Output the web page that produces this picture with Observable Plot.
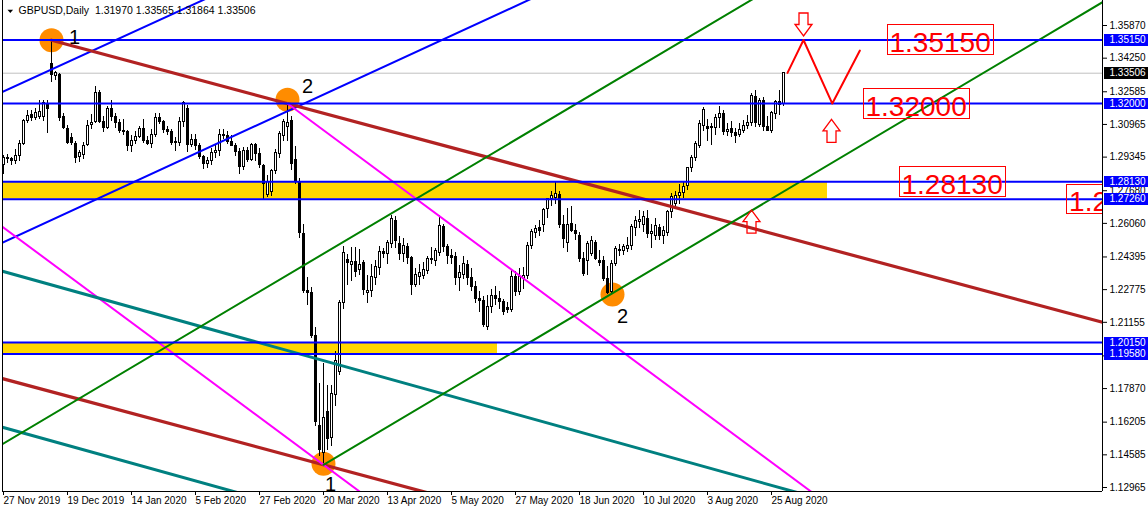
<!DOCTYPE html>
<html><head><meta charset="utf-8">
<script src="https://cdn.jsdelivr.net/npm/d3@7"></script>
<script src="https://cdn.jsdelivr.net/npm/@observablehq/plot@0.6"></script>
<style>html,body{margin:0;padding:0;background:#fff}svg{display:block}</style>
</head><body><div id="chart"></div>
<script>
// ---- daily GBPUSD bars, 27 Nov 2019 (bar 0) .. 28 Aug 2020 (bar 195) ----
const opens = [
1.2895,1.2930,1.2925,1.2917,1.2940,1.2998,1.3113,1.3145,1.3130,1.3131,
1.3135,1.3200,1.3395,1.3335,1.3340,1.3133,1.3076,1.3030,1.3000,1.2935,
1.2943,1.2995,1.3095,1.3110,1.3250,1.3110,1.3080,1.3175,1.3135,1.3105,
1.3065,1.3060,1.2990,1.3015,1.3035,1.3075,1.3015,1.3000,1.3045,1.3130,
1.3110,1.3070,1.3060,1.3005,1.3005,1.3110,1.3175,1.2995,1.3020,1.2990,
1.2935,1.2900,1.2915,1.2955,1.2965,1.3045,1.3040,1.3010,1.2990,1.2960,
1.2885,1.2965,1.2920,1.2995,1.2950,1.2890,1.2745,1.2760,1.2868,1.2950,
1.3040,1.3085,1.3115,1.2920,1.2808,1.2555,1.2270,1.2263,1.2050,1.1600,
1.1470,1.1669,1.1544,1.1753,1.1867,1.2209,1.2422,1.2400,1.2415,1.2375,
1.2410,1.2262,1.2270,1.2336,1.2383,1.2462,1.2452,1.2506,1.2620,1.2506,
1.2456,1.2490,1.2435,1.2300,1.2340,1.2345,1.2372,1.2430,1.2420,1.2460,
1.2590,1.2487,1.2443,1.2440,1.2337,1.2350,1.2400,1.2337,1.2290,1.2232,
1.2222,1.2090,1.2190,1.2245,1.2232,1.2215,1.2185,1.2175,1.2340,1.2265,
1.2330,1.2345,1.2495,1.2560,1.2585,1.2600,1.2675,1.2725,1.2730,1.2745,
1.2600,1.2510,1.2605,1.2570,1.2545,1.2430,1.2420,1.2455,1.2510,1.2420,
1.2420,1.2330,1.2265,1.2405,1.2475,1.2470,1.2480,1.2495,1.2585,1.2612,
1.2598,1.2630,1.2555,1.2545,1.2585,1.2545,1.2560,1.2660,1.2700,1.2740,
1.2755,1.2790,1.2880,1.2932,1.2990,1.3091,1.3082,1.3078,1.3080,1.3130,
1.3150,1.3060,1.3075,1.3055,1.3045,1.3065,1.3090,1.3105,1.3235,1.3095,
1.3215,1.3085,1.3065,1.3150,1.3210,1.31970];
const highs = [
1.2945,1.2948,1.2935,1.2970,1.3015,1.3120,1.3165,1.3165,1.3175,1.3216,
1.3216,1.3215,1.3514,1.3360,1.3350,1.3150,1.3090,1.3050,1.3010,1.2965,
1.3005,1.3118,1.3145,1.3285,1.3265,1.3135,1.3185,1.3215,1.3150,1.3120,
1.3120,1.3065,1.3040,1.3060,1.3085,1.3120,1.3035,1.3070,1.3150,1.3150,
1.3115,1.3085,1.3070,1.3030,1.3130,1.3210,1.3190,1.3045,1.3045,1.3000,
1.2945,1.2935,1.2975,1.2990,1.3070,1.3070,1.3060,1.3040,1.3000,1.2975,
1.2980,1.2980,1.3000,1.3000,1.2975,1.2900,1.2845,1.2875,1.2970,1.3060,
1.3120,1.3200,1.3135,1.2985,1.2830,1.2600,1.2340,1.2290,1.2090,1.1810,
1.1910,1.1800,1.1800,1.1970,1.2225,1.2490,1.2450,1.2485,1.2485,1.2475,
1.2420,1.2350,1.2400,1.2420,1.2490,1.2480,1.2520,1.2647,1.2640,1.2540,
1.2530,1.2505,1.2440,1.2380,1.2400,1.2410,1.2440,1.2485,1.2480,1.2645,
1.2600,1.2500,1.2475,1.2460,1.2395,1.2440,1.2420,1.2380,1.2320,1.2270,
1.2245,1.2250,1.2280,1.2295,1.2270,1.2230,1.2215,1.2370,1.2365,1.2380,
1.2385,1.2510,1.2575,1.2595,1.2620,1.2680,1.2730,1.2765,1.2812,1.2765,
1.2645,1.2680,1.2690,1.2600,1.2560,1.2460,1.2515,1.2540,1.2520,1.2470,
1.2440,1.2390,1.2420,1.2490,1.2500,1.2500,1.2535,1.2600,1.2640,1.2670,
1.2665,1.2670,1.2600,1.2630,1.2600,1.2590,1.2670,1.2755,1.2765,1.2800,
1.2815,1.2880,1.2945,1.3010,1.3115,1.3180,1.3120,1.3100,1.3145,1.3185,
1.3165,1.3100,1.3110,1.3075,1.3100,1.3115,1.3140,1.3250,1.3265,1.3225,
1.3230,1.3135,1.3160,1.3215,1.3265,1.33565];
const lows = [
1.2850,1.2905,1.2895,1.2900,1.2915,1.2990,1.3100,1.3110,1.3115,1.3120,
1.3110,1.3052,1.3305,1.3315,1.3110,1.3070,1.2998,1.2990,1.2905,1.2910,
1.2925,1.2985,1.3070,1.3100,1.3100,1.3055,1.3070,1.3110,1.3075,1.3050,
1.3040,1.2960,1.2955,1.2995,1.3025,1.3000,1.2990,1.2975,1.3030,1.3095,
1.3050,1.3040,1.2990,1.2960,1.2985,1.3080,1.2955,1.2980,1.2965,1.2925,
1.2875,1.2880,1.2895,1.2930,1.2940,1.3020,1.2995,1.2985,1.2940,1.2850,
1.2870,1.2910,1.2915,1.2915,1.2880,1.2725,1.2735,1.2740,1.2850,1.2930,
1.3010,1.3010,1.2870,1.2800,1.2530,1.2260,1.2200,1.2035,1.1600,1.1450,
1.1409,1.1480,1.1500,1.1700,1.1850,1.2180,1.2300,1.2320,1.2340,1.2350,
1.2250,1.2210,1.2240,1.2300,1.2350,1.2430,1.2400,1.2480,1.2480,1.2420,
1.2410,1.2400,1.2248,1.2290,1.2300,1.2330,1.2355,1.2400,1.2390,1.2440,
1.2460,1.2400,1.2400,1.2300,1.2270,1.2330,1.2300,1.2270,1.2210,1.2165,
1.2090,1.2075,1.2160,1.2200,1.2180,1.2150,1.2160,1.2165,1.2245,1.2250,
1.2280,1.2330,1.2475,1.2530,1.2540,1.2560,1.2630,1.2690,1.2700,1.2580,
1.2480,1.2460,1.2560,1.2520,1.2410,1.2345,1.2350,1.2440,1.2420,1.2390,
1.2320,1.2251,1.2255,1.2390,1.2440,1.2445,1.2460,1.2470,1.2540,1.2580,
1.2560,1.2530,1.2480,1.2520,1.2520,1.2500,1.2540,1.2630,1.2680,1.2700,
1.2730,1.2770,1.2860,1.2915,1.2975,1.3060,1.3010,1.2990,1.3040,1.3075,
1.3040,1.3035,1.3030,1.3000,1.3030,1.3050,1.3070,1.3085,1.3080,1.3080,
1.3060,1.3060,1.3050,1.3120,1.3140,1.31864];
const closes = [
1.2930,1.2925,1.2917,1.2940,1.2998,1.3113,1.3140,1.3130,1.3155,1.3156,
1.3205,1.3175,1.3340,1.3350,1.3130,1.3079,1.3006,1.3005,1.2932,1.2955,
1.2990,1.3090,1.3105,1.3250,1.3110,1.3080,1.3175,1.3135,1.3105,1.3065,
1.3060,1.2990,1.3015,1.3035,1.3075,1.3015,1.3000,1.3045,1.3130,1.3110,
1.3070,1.3060,1.3005,1.3010,1.3110,1.3205,1.2995,1.3020,1.2990,1.2935,
1.2900,1.2915,1.2955,1.2965,1.3045,1.3040,1.3010,1.2990,1.2960,1.2885,
1.2965,1.2920,1.2995,1.2950,1.2895,1.2800,1.2810,1.2865,1.2957,1.3050,
1.3110,1.3105,1.2900,1.2810,1.2560,1.2273,1.2260,1.2050,1.1619,1.1480,
1.1640,1.1539,1.1762,1.1926,1.2209,1.2457,1.2408,1.2415,1.2366,1.2400,
1.2275,1.2270,1.2338,1.2390,1.2462,1.2452,1.2510,1.2630,1.2520,1.2456,
1.2495,1.2435,1.2300,1.2352,1.2360,1.2375,1.2430,1.2422,1.2470,1.2595,
1.2490,1.2443,1.2435,1.2337,1.2360,1.2405,1.2337,1.2290,1.2232,1.2220,
1.2100,1.2190,1.2248,1.2232,1.2215,1.2165,1.2175,1.2340,1.2265,1.2340,
1.2345,1.2495,1.2565,1.2580,1.2570,1.2670,1.2727,1.2740,1.2750,1.2600,
1.2530,1.2600,1.2570,1.2555,1.2430,1.2355,1.2505,1.2520,1.2430,1.2410,
1.2330,1.2260,1.2405,1.2480,1.2470,1.2490,1.2495,1.2590,1.2620,1.2625,
1.2640,1.2555,1.2565,1.2595,1.2545,1.2570,1.2660,1.2735,1.2740,1.2755,
1.2785,1.2880,1.2930,1.3000,1.3100,1.3170,1.3075,1.3085,1.3130,1.3150,
1.3060,1.3070,1.3055,1.3040,1.3070,1.3090,1.3105,1.3240,1.3105,1.3215,
1.3085,1.3065,1.3155,1.3210,1.3195,1.33506];

// ---- axes ----
const dateTickBars = [0,16,32,48,64,80,96,112,128,144,160,176,192];
const dateTickLabels = ["27 Nov 2019","19 Dec 2019","14 Jan 2020","5 Feb 2020","27 Feb 2020","20 Mar 2020","13 Apr 2020","5 May 2020","27 May 2020","18 Jun 2020","10 Jul 2020","3 Aug 2020","25 Aug 2020"];
const priceTicks = [1.35870,1.34250,1.32585,1.30965,1.29345,1.27680,1.26060,1.24395,1.22775,1.21155,1.19490,1.17870,1.16205,1.14585,1.12965];

// ---- drawn objects ----
const levels = [1.35150,1.32000,1.28130,1.27260,1.20150,1.19580];
const bidPrice = 1.33506;
const zones = [{from:-5,to:206,lo:1.2726,hi:1.2813},{from:-5,to:123.5,lo:1.1958,hi:1.2015}];
const pivots = [{bar:12,price:1.3514,label:"1"},{bar:71,price:1.3219,label:"2"},{bar:80,price:1.1414,label:"1"},{bar:152.25,price:1.2253,label:"2"}];
const trendlines = [
  {color:"#0000ff",a:[0,1.3260],b:[48,1.3696],ray:false},
  {color:"#0000ff",a:[0,1.2513],b:[129.6,1.3698],ray:false},
  {color:"#b22222",a:[12,1.3514],b:[71,1.3200],ray:true},
  {color:"#b22222",a:[0,1.1835],b:[80,1.1409],ray:false},
  {color:"#ff00ff",a:[71,1.3200],b:[200,1.1304],ray:true},
  {color:"#ff00ff",a:[0,1.2585],b:[80,1.1409],ray:false},
  {color:"#008080",a:[0,1.2367],b:[196.75,1.1281],ray:false},
  {color:"#008080",a:[0,1.1594],b:[56.75,1.1281],ray:false},
  {color:"#008000",a:[0,1.1515],b:[100,1.2691],ray:false},
  {color:"#008000",a:[80,1.1409],b:[151.5,1.2251],ray:true}
];
const lineWidths = {"#0000ff":2,"#b22222":3.2,"#ff00ff":2,"#008080":3,"#008000":2};
const zigzag = [{bar:196,price:1.3352},{bar:200,price:1.3515},{bar:207.2,price:1.3200},{bar:214.1,price:1.3463}];
const arrowsUp = [{bar:207,price:1.3065},{bar:187,price:1.2615}];
const arrowsDown = [{bar:200,price:1.3592}];
const redLabels = [{bar:221.5,price:1.3515,text:"1.35150"},{bar:215.5,price:1.3200,text:"1.32000"},{bar:224.5,price:1.2813,text:"1.28130"},{bar:266.4,price:1.2726,text:"1.27260"}];

const bars = opens.map((o,i)=>({i,o,h:highs[i],l:lows[i],c:closes[i]}));
const X0 = -0.25, X1 = 274.75;
const last = bars[bars.length-1];
const title = `GBPUSD,Daily  ${last.o.toFixed(5)} ${last.h.toFixed(5)} ${last.l.toFixed(5)} ${last.c.toFixed(5)}`;

// marker colours used to find the labels that get a box behind them
const RED_TXT = "#ff0001", BLUE_TXT = "#fffffe", BLACK_TXT = "#fffffd";

function extend(l){
  const [x0,y0]=l.a,[x1,y1]=l.b, m=(y1-y0)/(x1-x0);
  const xs = l.ray ? x0 : X0-10, xe = X1+10;
  return [{bar:xs,price:y0+m*(xs-x0)},{bar:xe,price:y0+m*(xe-x0)}];
}
const upArrow = {draw(ctx,size){const k=Math.sqrt(size/Math.PI)/12;
  ctx.moveTo(0,-11.5*k);ctx.lineTo(8.5*k,0);ctx.lineTo(4.5*k,0);ctx.lineTo(4.5*k,11.5*k);
  ctx.lineTo(-4.5*k,11.5*k);ctx.lineTo(-4.5*k,0);ctx.lineTo(-8.5*k,0);ctx.closePath();}};
const downArrow = {draw(ctx,size){const k=Math.sqrt(size/Math.PI)/12;
  ctx.moveTo(0,11.5*k);ctx.lineTo(8.5*k,0);ctx.lineTo(4.5*k,0);ctx.lineTo(4.5*k,-11.5*k);
  ctx.lineTo(-4.5*k,-11.5*k);ctx.lineTo(-4.5*k,0);ctx.lineTo(-8.5*k,0);ctx.closePath();}};
const downTri = {draw(ctx,size){const k=Math.sqrt(size/Math.PI)/3;
  ctx.moveTo(-2.8*k,-1.5*k);ctx.lineTo(2.8*k,-1.5*k);ctx.lineTo(0,1.6*k);ctx.closePath();}};

const svg = Plot.plot({
  width:1148, height:511, marginLeft:2, marginRight:46, marginTop:0, marginBottom:20,
  style:{fontFamily:"'Liberation Sans', Arial, sans-serif", fontSize:"10px", color:"black", background:"white"},
  x:{type:"linear", domain:[X0,X1], label:null},
  y:{type:"linear", domain:[1.12767,1.37110], label:null},
  marks:[
    Plot.rect(zones,{x1:"from",x2:"to",y1:"lo",y2:"hi",fill:"#ffd700",clip:true}),
    Plot.dot(pivots,{x:"bar",y:"price",r:12,fill:"#ff8c00"}),
    Plot.ruleY([bidPrice],{stroke:"#c0c0c0",strokeWidth:1}),
    Plot.ruleX(bars,{x:"i",y1:"l",y2:"h",stroke:"black",strokeWidth:1,shapeRendering:"crispEdges"}),
    Plot.rect(bars,{x1:d=>d.i-0.25,x2:d=>d.i+0.25,y1:d=>Math.min(d.o,d.c),y2:d=>Math.max(d.o,d.c),
      fill:d=>d.c>=d.o?"white":"black",stroke:"black",strokeWidth:1,shapeRendering:"crispEdges"}),
    ...trendlines.map(l=>Plot.line(extend(l),{x:"bar",y:"price",stroke:l.color,strokeWidth:lineWidths[l.color],clip:true})),
    Plot.ruleY(levels,{stroke:"#0000ff",strokeWidth:2}),
    Plot.line(zigzag,{x:"bar",y:"price",stroke:"#ff0000",strokeWidth:2,clip:true}),
    Plot.dot(arrowsUp,{x:"bar",y:"price",r:12,symbol:upArrow,fill:"none",stroke:"#ff0000",strokeWidth:1.3}),
    Plot.dot(arrowsDown,{x:"bar",y:"price",r:12,symbol:downArrow,fill:"none",stroke:"#ff0000",strokeWidth:1.3}),
    Plot.text(redLabels,{x:"bar",y:"price",text:"text",textAnchor:"start",dy:3,fontSize:28,fill:RED_TXT,clip:true}),
    Plot.text([pivots[0]],{x:"bar",y:"price",text:"label",fontSize:20,dx:23,dy:-3,fill:"black"}),
    Plot.text([pivots[1]],{x:"bar",y:"price",text:"label",fontSize:20,dx:20,dy:-13,fill:"black"}),
    Plot.text([pivots[2]],{x:"bar",y:"price",text:"label",fontSize:20,dx:7,dy:21,fill:"black"}),
    Plot.text([pivots[3]],{x:"bar",y:"price",text:"label",fontSize:20,dx:10,dy:22,fill:"black"}),
    Plot.dot([0],{frameAnchor:"top-left",dx:7.8,dy:10.8,r:3,symbol:downTri,fill:"black"}),
    Plot.text([title],{text:d=>d,frameAnchor:"top-left",dx:16,dy:6.5,lineAnchor:"top",textAnchor:"start",fontSize:10.5,fill:"black"}),
    Plot.ruleX([X0,X1],{stroke:"black"}),
    Plot.ruleY([1.12767],{stroke:"black"}),
    Plot.axisX(dateTickBars,{anchor:"bottom",tickSize:4,tickPadding:1,textAnchor:"start",label:null,
      tickFormat:d=>dateTickLabels[dateTickBars.indexOf(d)],fontSize:10}),
    Plot.axisY(priceTicks,{anchor:"right",tickSize:4,tickPadding:3,label:null,tickFormat:d=>d.toFixed(5),fontSize:10}),
    Plot.text(levels,{y:d=>d,frameAnchor:"right",dx:7,textAnchor:"start",text:d=>d.toFixed(5),fill:BLUE_TXT,fontSize:10}),
    Plot.text([bidPrice],{y:d=>d,frameAnchor:"right",dx:7,textAnchor:"start",text:d=>d.toFixed(5),fill:BLACK_TXT,fontSize:10})
  ]
});
document.getElementById("chart").append(svg);

function boxify(color,o){
  const texts = [];
  svg.querySelectorAll("[fill]").forEach(el=>{
    if ((el.getAttribute("fill")||"").toLowerCase()!==color) return;
    if (el.tagName.toLowerCase()==="text") texts.push(el);
    else el.querySelectorAll("text").forEach(t=>texts.push(t));
  });
  texts.forEach(t=>{
    const b=t.getBBox();
    const r=document.createElementNS("http://www.w3.org/2000/svg","rect");
    r.setAttribute("x",b.x-o.left); r.setAttribute("y",b.y+o.top);
    r.setAttribute("width",b.width+o.left+o.right); r.setAttribute("height",b.height+o.h);
    r.setAttribute("fill",o.fill); r.setAttribute("stroke",o.stroke); r.setAttribute("stroke-width",o.sw||0);
    r.setAttribute("shape-rendering","crispEdges");
    const tr=t.getAttribute("transform"); if(tr) r.setAttribute("transform",tr);
    t.parentNode.insertBefore(r,t);
  });
}
boxify(RED_TXT,{left:2.5,right:2.5,top:-2,h:-1.5,fill:"none",stroke:"#ff0000",sw:1});
boxify(BLUE_TXT,{left:6,right:3,top:0,h:0.5,fill:"#0000ff",stroke:"none"});
boxify(BLACK_TXT,{left:6,right:3,top:0,h:0.5,fill:"#000000",stroke:"none"});
</script>
</body></html>
